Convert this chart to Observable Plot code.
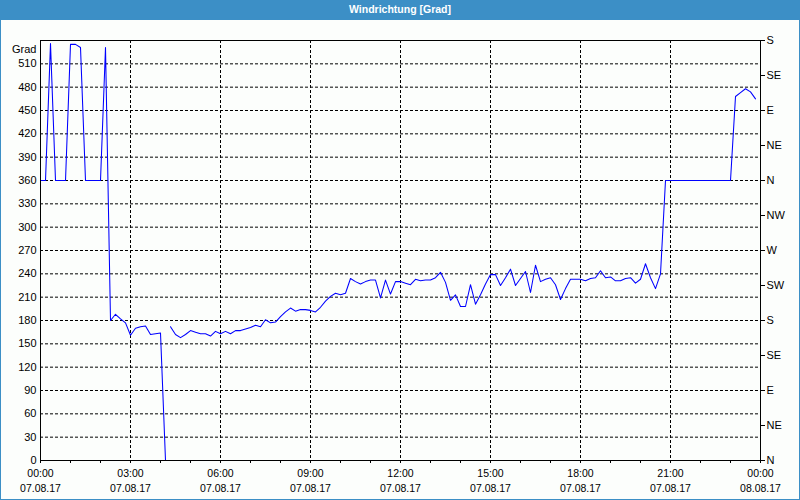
<!DOCTYPE html>
<html><head><meta charset="utf-8">
<script src="https://cdn.jsdelivr.net/npm/d3@7"></script>
<script src="https://cdn.jsdelivr.net/npm/@observablehq/plot@0.6"></script>
<style>
html,body{margin:0;padding:0;background:#fff}
#win{position:relative;width:800px;height:500px;background:#fcfefc;overflow:hidden;font-family:"Liberation Sans",Arial,sans-serif}
#title{position:absolute;left:0;top:0;width:800px;height:20px;background:#3c8fc6;color:#fff;font-weight:bold;font-size:10.5px;line-height:19px;text-align:center}
#chart{position:absolute;left:0;top:0}
#frame{position:absolute;left:0;top:0;width:800px;height:500px;box-sizing:border-box;border:1px solid #3c8fc6;pointer-events:none}
</style></head>
<body>
<div id="win"><div id="chart"></div><div id="title">Windrichtung [Grad]</div><div id="frame"></div></div>
<script>
// time in minutes since 07.08.17 00:00, wind direction in degrees (null = missing)
const minutes = [0,10,20,30,50,60,70,80,90,120,130,140,150,160,170,180,190,200,210,220,230,240,250,255,
  260,270,280,290,300,310,320,330,340,350,360,370,380,390,400,410,420,430,440,450,460,470,480,490,500,510,
  520,530,540,550,560,570,580,590,600,610,620,630,640,650,660,670,680,690,700,710,720,730,740,750,760,770,
  780,790,800,810,820,830,840,850,860,870,880,890,900,910,920,930,940,950,960,970,980,990,1000,1010,1020,
  1030,1040,1050,1060,1070,1080,1090,1100,1110,1120,1130,1140,1150,1160,1170,1180,1190,1200,1210,1220,1230,
  1240,1250,1380,1390,1400,1410,1420,1430];
const values = [360,360,536,360,360,535,535,531,360,360,531,180,188,182,177,161,170,172,173,162,163,164,0,null,
  172,162,158,162,167,165,163,163,160,166,163,166,163,167,167,169,171,174,172,181,177,178,185,191,196,192,
  194,194,193,191,197,205,211,215,213,215,234,230,227,230,232,232,209,232,214,230,230,228,226,233,231,232,
  232,235,242,229,206,213,198,198,226,201,213,227,239,239,225,235,246,225,234,243,216,251,230,233,235,
  226,207,221,233,233,233,231,234,235,244,235,236,231,231,234,235,228,233,253,235,221,
  240,360,360,468,473,478,474,465];

const yTicks = d3.range(0, 511, 30);
const gridY = d3.range(30, 511, 30);
const dirTicks = d3.range(0, 541, 45);
const dirLabels = ["N","NE","E","SE","S","SW","W","NW","N","NE","E","SE","S"];
const hourTicks = d3.range(0, 1441, 60);
const labelTicks = d3.range(0, 1441, 180);
const gridX = d3.range(180, 1261, 180);
const timeLabels = ["00:00","03:00","06:00","09:00","12:00","15:00","18:00","21:00","00:00"];
const dateLabels = ["07.08.17","07.08.17","07.08.17","07.08.17","07.08.17","07.08.17","07.08.17","07.08.17","08.08.17"];
const unitLabel = "Grad";

const data = minutes.map((m, i) => ({m, v: values[i]}));

const chart = Plot.plot({
  width: 800, height: 500,
  marginLeft: 40, marginRight: 40, marginTop: 40, marginBottom: 40,
  style: {background: "transparent", fontFamily: "'Liberation Sans', Arial, sans-serif", fontSize: "10px", color: "#000"},
  x: {domain: [0, 1440], label: null},
  y: {domain: [0, 540], label: null},
  marks: [
    Plot.ruleY(gridY, {stroke: "#000", strokeDasharray: "3,2", strokeWidth: 1}),
    Plot.ruleX(gridX, {stroke: "#000", strokeDasharray: "3,2", strokeWidth: 1}),
    Plot.line(data, {x: "m", y: "v", stroke: "#0000ff", strokeWidth: 1.05}),
    Plot.frame({stroke: "#000", strokeWidth: 1}),
    Plot.axisY({ticks: yTicks, tickSize: 0, tickPadding: 4, tickFormat: d => String(d), fontSize: 11, label: null}),
    Plot.axisY({anchor: "right", ticks: dirTicks, tickSize: 4, tickPadding: 2, tickFormat: d => dirLabels[dirTicks.indexOf(d)], fontSize: 11, label: null}),
    Plot.axisX({ticks: hourTicks, tickSize: 3, tickFormat: () => "", label: null}),
    Plot.axisX({ticks: labelTicks, tickSize: 0, tickPadding: 9, tickFormat: d => timeLabels[labelTicks.indexOf(d)], fontSize: 10.5, label: null}),
    Plot.axisX({ticks: labelTicks, tickSize: 0, tickPadding: 24, tickFormat: d => dateLabels[labelTicks.indexOf(d)], fontSize: 10.5, label: null}),
    Plot.text([unitLabel], {frameAnchor: "top-left", dx: -4, dy: 5, textAnchor: "end", fontSize: 11})
  ]
});
document.getElementById("chart").appendChild(chart);
</script>
</body></html>
